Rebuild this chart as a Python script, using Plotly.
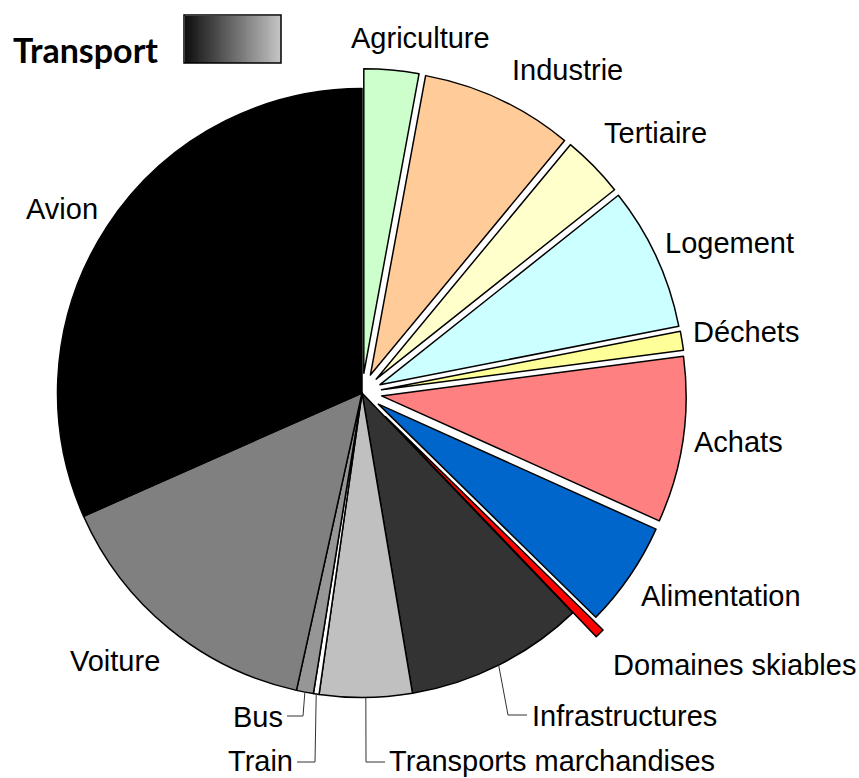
import math
import plotly.graph_objects as go

W, H = 859, 778

# ---- data ----
labels = ["Agriculture", "Industrie", "Tertiaire", "Logement", "Déchets", "Achats",
          "Alimentation", "Domaines skiables", "Infrastructures",
          "Transports marchandises", "Train", "Bus", "Voiture", "Avion"]
values = [2.9, 8.1, 3.3, 7.6, 1.0, 8.8, 5.6, 0.5, 9.5, 4.9, 0.3, 0.9, 14.9, 31.6]
colors = ["#CCFFCC", "#FFCC99", "#FFFFCC", "#CCFFFF", "#FFFF99", "#FF8080",
          "#0066CC", "#FF0000", "#333333", "#C0C0C0", "#FFFFFF", "#969696",
          "#808080", "#000000"]
pulls = [0.065, 0.065, 0.065, 0.065, 0.065, 0.065, 0.065, 0.11,
         0, 0, 0, 0, 0, 0]

# ---- geometry (pixels) ----
CX, CY, R = 362, 393, 304.5
half = R * (1 + max(pulls))
FS = 29


def px(x):
    return x / W


def py(y):
    return 1 - y / H


fig = go.Figure()
fig.add_trace(go.Pie(
    labels=labels, values=values, sort=False, direction="clockwise", rotation=0,
    pull=pulls, textinfo="none", hoverinfo="label+value",
    marker=dict(colors=colors, line=dict(color="#000000", width=1.5)),
    domain=dict(x=[px(CX - half), px(CX + half)], y=[py(CY + half), py(CY - half)]),
    showlegend=False,
))

# gradient box next to the title
fig.add_trace(go.Heatmap(
    z=[[i for i in range(50)]], colorscale=[[0, "#111111"], [1, "#C4C4C4"]],
    showscale=False, zsmooth="best", hoverinfo="skip", xaxis="x", yaxis="y",
))

fig.update_layout(
    width=W, height=H, margin=dict(l=0, r=0, t=0, b=0),
    paper_bgcolor="white", plot_bgcolor="white",
    xaxis=dict(domain=[px(185), px(281)], visible=False, fixedrange=True),
    yaxis=dict(domain=[py(63), py(16)], visible=False, fixedrange=True),
    font=dict(family="Liberation Sans, Arial, sans-serif", size=FS, color="#000000"),
)

shapes = [dict(type="rect", xref="paper", yref="paper",
               x0=px(184), x1=px(281), y0=py(63), y1=py(15),
               line=dict(color="#000000", width=1.5))]

# label placement (pixels): x, y, anchor
label_pos = {
    "Agriculture": (349, 38, "left"),
    "Industrie": (510, 70, "left"),
    "Tertiaire": (602, 133, "left"),
    "Logement": (663, 243, "left"),
    "Déchets": (691, 332, "left"),
    "Achats": (692, 442, "left"),
    "Alimentation": (639, 596, "left"),
    "Domaines skiables": (611, 665, "left"),
    "Infrastructures": (530, 716, "left"),
    "Transports marchandises": (387, 761, "left"),
    "Train": (295, 761, "right"),
    "Bus": (285, 717, "right"),
    "Voiture": (68, 661, "left"),
    "Avion": (24, 209, "left"),
}
# leader elbows (pixels) for labels below the pie
leader = {
    "Infrastructures": [(508, 715), (527, 715)],
    "Transports marchandises": [(366, 762), (385, 762)],
    "Train": [(315, 762), (297, 762)],
    "Bus": [(303, 716), (287, 716)],
}

annotations = []
total = sum(values)
cum = 0
for lab, v in zip(labels, values):
    mid = (cum + v / 2) / total * 2 * math.pi
    cum += v
    x, y, anc = label_pos[lab]
    annotations.append(dict(text=lab, x=px(x), y=py(y), xref="paper", yref="paper",
                            xanchor=anc, yanchor="middle", showarrow=False,
                            font=dict(size=FS)))
    if lab in leader:
        sx = CX + R * math.sin(mid)
        sy = CY - R * math.cos(mid)
        pts = [(sx, sy)] + leader[lab]
        path = "M " + " L ".join(f"{px(a)},{py(b)}" for a, b in pts)
        shapes.append(dict(type="path", xref="paper", yref="paper", path=path,
                           line=dict(color="#333333", width=1)))

annotations.append(dict(text="<b>Transport</b>", x=px(11), y=py(50), xref="paper",
                        yref="paper", xanchor="left", yanchor="middle", showarrow=False,
                        font=dict(family="Lato, Open Sans, sans-serif", size=34,
                                  color="#000000")))

fig.update_layout(shapes=shapes, annotations=annotations)
fig.write_html("out.html")
